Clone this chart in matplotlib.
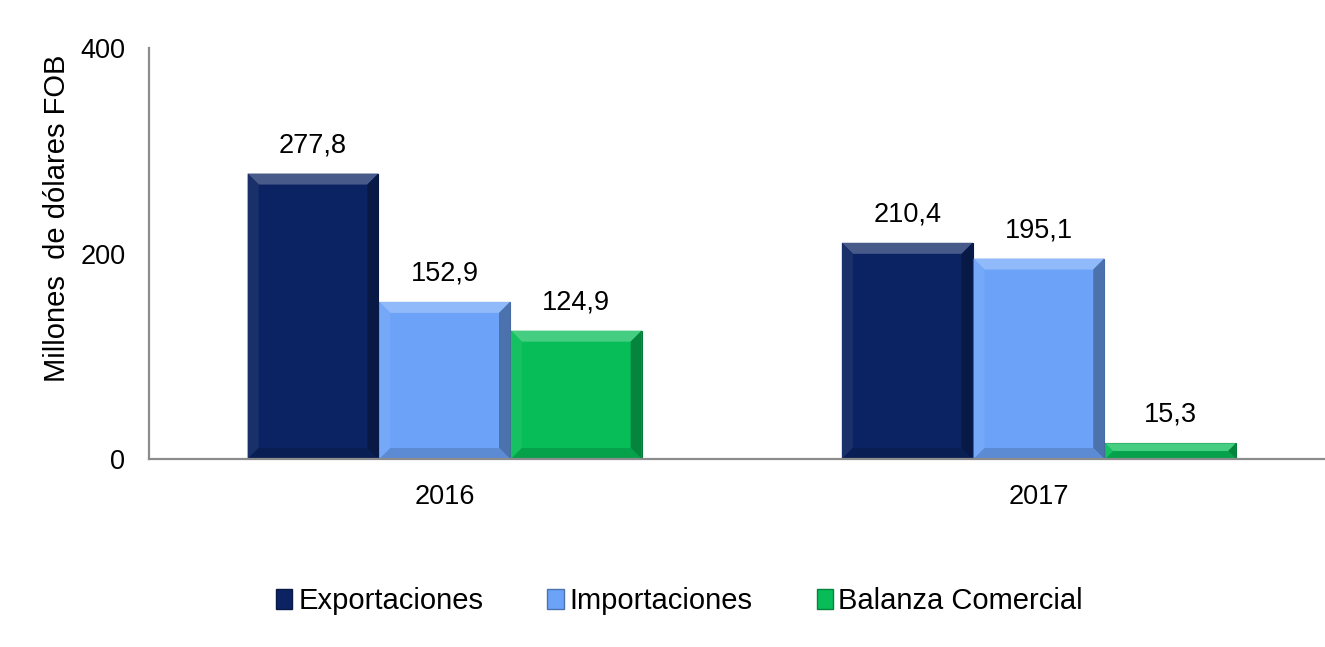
import matplotlib
matplotlib.use("Agg")
import matplotlib.pyplot as plt
from matplotlib.patches import Polygon, Patch
from matplotlib.colors import to_rgb
from matplotlib import font_manager
import numpy as np

plt.rcParams['font.family'] = ['Liberation Sans', 'DejaVu Sans']
_names = {f.name for f in font_manager.fontManager.ttflist}
HAS_NARROW = 'Liberation Sans Narrow' in _names
NARROW = ['Liberation Sans Narrow', 'Liberation Sans', 'DejaVu Sans'] if HAS_NARROW else ['Liberation Sans', 'DejaVu Sans']
NS = 21.5 if HAS_NARROW else 19.5

years = ["2016", "2017"]
series_names = ["Exportaciones", "Importaciones", "Balanza Comercial"]
exportaciones = [277.8, 210.4]
importaciones = [152.9, 195.1]
balanza = [124.9, 15.3]
labels_txt = [["277,8", "210,4"], ["152,9", "195,1"], ["124,9", "15,3"]]
colors = ["#0b2362", "#6ca3f8", "#07bd58"]

W, H = 1325, 647
fig = plt.figure(figsize=(W / 100, H / 100), dpi=100)
ax = fig.add_axes([149 / W, 1 - 459 / H, 1 - 149 / W, (459 - 48) / H])

ax.set_ylim(0, 400)
ax.set_xlim(-0.4975, 1.4815)
ax.set_yticks([0, 200, 400])
x = np.arange(len(years))
ax.set_xticks(x)
ax.set_xticklabels(years)
ax.tick_params(axis='both', length=0)
ax.tick_params(axis='y', pad=17)
ax.tick_params(axis='x', pad=18)
for lab in ax.get_yticklabels():
    lab.set_fontfamily(NARROW); lab.set_fontsize(NS)
for lab in ax.get_xticklabels():
    lab.set_fontfamily(NARROW); lab.set_fontsize(NS + 1 if HAS_NARROW else 19.5)
for s in ['top', 'right']:
    ax.spines[s].set_visible(False)
for s in ['left', 'bottom']:
    ax.spines[s].set_color('#8c8c8c')
    ax.spines[s].set_linewidth(1.6)
ax.spines['bottom'].set_zorder(5)

ax.set_ylabel("Millones  de dólares FOB", fontsize=21)
ax.yaxis.set_label_coords(-0.066, 0.585)

# pixel -> data conversion
px_x = (1.4815 + 0.4975) / (W - 149)
px_y = 400 / (459 - 48)

def mix(c, t, amt):
    c = np.array(to_rgb(c)); t = np.array(to_rgb(t))
    return tuple(c * (1 - amt) + t * amt)

width = 0.22
offs = [-0.2215, 0.0, 0.2215]
all_vals = [exportaciones, importaciones, balanza]
for k, (vals, col) in enumerate(zip(all_vals, colors)):
    xs = x + offs[k]
    ax.bar(xs, vals, width=width, color=col, edgecolor=mix(col, 'black', 0.35),
           linewidth=0.8, zorder=2)
    for xi, v, txt in zip(xs, vals, labels_txt[k]):
        x0, x1 = xi - width / 2, xi + width / 2
        by = min(11 * px_y, v / 2)
        bx = min(11 * px_x, by / px_y * px_x)
        top = Polygon([(x0, v), (x1, v), (x1 - bx, v - by), (x0 + bx, v - by)],
                      closed=True, facecolor=mix(col, 'white', 0.25), edgecolor='none', zorder=3)
        left = Polygon([(x0, 0), (x0, v), (x0 + bx, v - by), (x0 + bx, by)],
                       closed=True, facecolor=mix(col, 'white', 0.06), edgecolor='none', zorder=3)
        right = Polygon([(x1, 0), (x1, v), (x1 - bx, v - by), (x1 - bx, by)],
                        closed=True, facecolor=mix(col, 'black', 0.3), edgecolor='none', zorder=3)
        bot = Polygon([(x0, 0), (x1, 0), (x1 - bx, by), (x0 + bx, by)],
                      closed=True, facecolor=mix(col, 'black', 0.15), edgecolor='none', zorder=3)
        for p in (top, left, right, bot):
            ax.add_patch(p)
        ax.annotate(txt, (xi, v), xytext=(0, 15.5), textcoords='offset points',
                    ha='center', va='baseline', fontsize=NS, family=NARROW)

handles = [Patch(facecolor=c, edgecolor=mix(c, 'black', 0.3)) for c in colors]
fig.legend(handles, series_names, loc='center', bbox_to_anchor=(0.513, 1 - 601 / H),
           ncol=3, frameon=False, fontsize=21, handlelength=0.55, handleheight=0.7,
           handletextpad=0.2, columnspacing=2.2)

fig.savefig("out.png", dpi=100)
